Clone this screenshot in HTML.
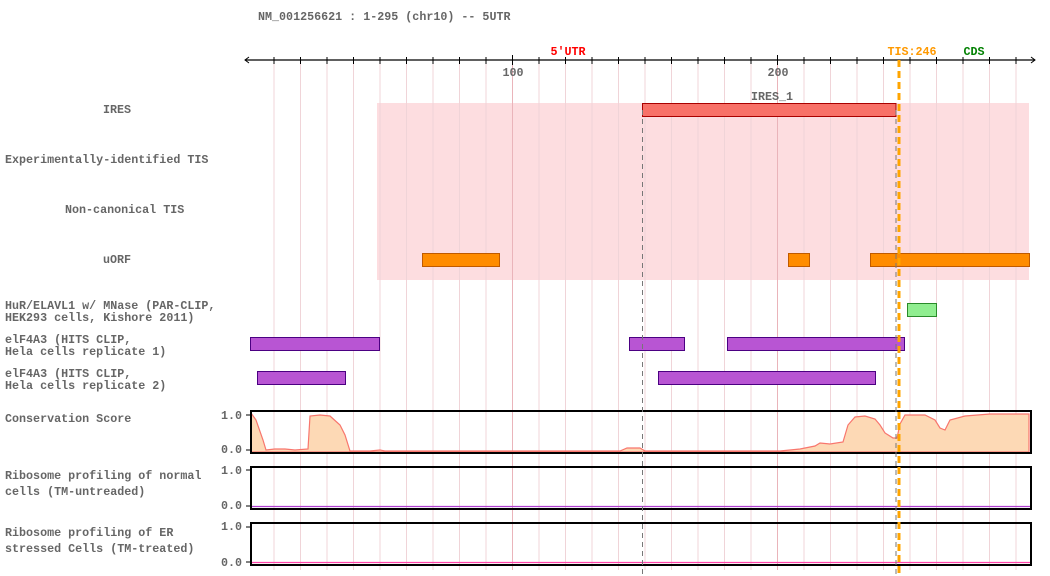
<!DOCTYPE html>
<html><head><meta charset="utf-8"><style>
body{margin:0;background:#fff;}
svg{display:block;}
text{font-family:"Liberation Mono",monospace;font-weight:bold;}
</style></head><body>
<svg width="1050" height="576" viewBox="0 0 1050 576" xmlns="http://www.w3.org/2000/svg">
<text x="258" y="20" font-size="11.7" fill="#666">NM_001256621 : 1-295 (chr10) -- 5UTR</text>
<rect x="377" y="103" width="652" height="177" fill="#fddde0"/>
<g stroke="#f0d4d8" stroke-width="1">
<line x1="274" y1="60" x2="274" y2="570"/><line x1="300.5" y1="60" x2="300.5" y2="570"/><line x1="327" y1="60" x2="327" y2="570"/><line x1="353.5" y1="60" x2="353.5" y2="570"/><line x1="380" y1="60" x2="380" y2="570"/><line x1="406.5" y1="60" x2="406.5" y2="570"/><line x1="433" y1="60" x2="433" y2="570"/><line x1="459.5" y1="60" x2="459.5" y2="570"/><line x1="486" y1="60" x2="486" y2="570"/>
<line x1="539" y1="60" x2="539" y2="570"/><line x1="565.5" y1="60" x2="565.5" y2="570"/><line x1="592" y1="60" x2="592" y2="570"/><line x1="618.5" y1="60" x2="618.5" y2="570"/><line x1="645" y1="60" x2="645" y2="570"/><line x1="671.5" y1="60" x2="671.5" y2="570"/><line x1="698" y1="60" x2="698" y2="570"/><line x1="724.5" y1="60" x2="724.5" y2="570"/><line x1="751" y1="60" x2="751" y2="570"/>
<line x1="804" y1="60" x2="804" y2="570"/><line x1="830.5" y1="60" x2="830.5" y2="570"/><line x1="857" y1="60" x2="857" y2="570"/><line x1="883.5" y1="60" x2="883.5" y2="570"/><line x1="910" y1="60" x2="910" y2="570"/><line x1="936.5" y1="60" x2="936.5" y2="570"/><line x1="963" y1="60" x2="963" y2="570"/><line x1="989.5" y1="60" x2="989.5" y2="570"/><line x1="1016" y1="60" x2="1016" y2="570"/>
</g>
<g stroke="#eab4ba"><line x1="512.5" y1="60" x2="512.5" y2="570"/><line x1="777.5" y1="60" x2="777.5" y2="570"/></g>
<line x1="245" y1="60" x2="1035" y2="60" stroke="#000" stroke-width="1.2"/>
<path d="M249,57 L245,60 L249,63 M1031,57 L1035,60 L1031,63" stroke="#000" fill="none"/>
<g stroke="#000">
<line x1="274" y1="57" x2="274" y2="64"/><line x1="300.5" y1="57" x2="300.5" y2="64"/><line x1="327" y1="57" x2="327" y2="64"/><line x1="353.5" y1="57" x2="353.5" y2="64"/><line x1="380" y1="57" x2="380" y2="64"/><line x1="406.5" y1="57" x2="406.5" y2="64"/><line x1="433" y1="57" x2="433" y2="64"/><line x1="459.5" y1="57" x2="459.5" y2="64"/><line x1="486" y1="57" x2="486" y2="64"/><line x1="512.5" y1="55" x2="512.5" y2="65"/>
<line x1="539" y1="57" x2="539" y2="64"/><line x1="565.5" y1="57" x2="565.5" y2="64"/><line x1="592" y1="57" x2="592" y2="64"/><line x1="618.5" y1="57" x2="618.5" y2="64"/><line x1="645" y1="57" x2="645" y2="64"/><line x1="671.5" y1="57" x2="671.5" y2="64"/><line x1="698" y1="57" x2="698" y2="64"/><line x1="724.5" y1="57" x2="724.5" y2="64"/><line x1="751" y1="57" x2="751" y2="64"/><line x1="777.5" y1="55" x2="777.5" y2="65"/>
<line x1="804" y1="57" x2="804" y2="64"/><line x1="830.5" y1="57" x2="830.5" y2="64"/><line x1="857" y1="57" x2="857" y2="64"/><line x1="883.5" y1="57" x2="883.5" y2="64"/><line x1="910" y1="57" x2="910" y2="64"/><line x1="936.5" y1="57" x2="936.5" y2="64"/><line x1="963" y1="57" x2="963" y2="64"/><line x1="989.5" y1="57" x2="989.5" y2="64"/><line x1="1016" y1="57" x2="1016" y2="64"/>
</g>
<text x="513" y="76" font-size="11.7" fill="#666" text-anchor="middle">100</text>
<text x="778" y="76" font-size="11.7" fill="#666" text-anchor="middle">200</text>
<text x="568" y="55" font-size="11.7" fill="#f00" text-anchor="middle">5'UTR</text>
<text x="912" y="55" font-size="11.7" fill="#ff9900" text-anchor="middle">TIS:246</text>
<text x="974" y="55" font-size="11.7" fill="#008000" text-anchor="middle">CDS</text>
<g font-size="11.7" fill="#666">
<text x="103" y="113">IRES</text>
<text x="5" y="163">Experimentally-identified TIS</text>
<text x="65" y="213">Non-canonical TIS</text>
<text x="103" y="263">uORF</text>
<text x="5" y="309">HuR/ELAVL1 w/ MNase (PAR-CLIP,</text>
<text x="5" y="321">HEK293 cells, Kishore 2011)</text>
<text x="5" y="343">elF4A3 (HITS CLIP,</text>
<text x="5" y="355">Hela cells replicate 1)</text>
<text x="5" y="377">elF4A3 (HITS CLIP,</text>
<text x="5" y="389">Hela cells replicate 2)</text>
<text x="5" y="422">Conservation Score</text>
<text x="5" y="479">Ribosome profiling of normal</text>
<text x="5" y="495">cells (TM-untreaded)</text>
<text x="5" y="536">Ribosome profiling of ER</text>
<text x="5" y="552">stressed Cells (TM-treated)</text>
<text x="242" y="419" text-anchor="end">1.0</text><text x="242" y="453" text-anchor="end">0.0</text>
<text x="242" y="474" text-anchor="end">1.0</text><text x="242" y="509" text-anchor="end">0.0</text>
<text x="242" y="530" text-anchor="end">1.0</text><text x="242" y="566" text-anchor="end">0.0</text>
</g>
<text x="772" y="100" font-size="11.7" fill="#666" text-anchor="middle">IRES_1</text>
<rect x="642.5" y="103.5" width="253.5" height="13" fill="#f87168" stroke="#a00" stroke-width="1"/>
<g fill="#ff8c00" stroke="#c05a00">
<rect x="422.5" y="253.5" width="77" height="13"/><rect x="788.5" y="253.5" width="21" height="13"/><rect x="870.5" y="253.5" width="159" height="13"/>
</g>
<rect x="907.5" y="303.5" width="29" height="13" fill="#90ee90" stroke="#2a8a2a"/>
<g fill="#b855d3" stroke="#4b0082">
<rect x="250.5" y="337.5" width="129" height="13"/><rect x="629.5" y="337.5" width="55" height="13"/><rect x="727.5" y="337.5" width="177" height="13"/>
<rect x="257.5" y="371.5" width="88" height="13"/><rect x="658.5" y="371.5" width="217" height="13"/>
</g>
<path d="M251,413 L256,420 L263,440 L266,450 L275,449 L285,449 L295,450 L308,449 L310,416 L320,415 L330,416 L340,425 L345,435 L350,451 L370,451 L380,450 L385,451 L620,451 L627,448 L640,448 L645,451 L780,451 L800,449 L815,446 L820,443 L830,444 L843,442 L848,425 L855,417 L865,416 L875,419 L880,425 L885,433 L893,438 L897,438 L900,424 L905,415 L925,415 L935,420 L940,428 L945,430 L950,420 L965,416 L990,414 L1029,414 L1029,452 L251,452 Z" fill="#fdd9b5" stroke="#f8766d" stroke-width="1.2"/>
<g fill="none" stroke="#000" stroke-width="2">
<rect x="251" y="411" width="780" height="42"/>
<rect x="251" y="467" width="780" height="42"/>
<rect x="251" y="523" width="780" height="42"/>
</g>
<g stroke="#000"><line x1="246" y1="415" x2="251" y2="415"/><line x1="246" y1="450" x2="251" y2="450"/><line x1="246" y1="470" x2="251" y2="470"/><line x1="246" y1="506" x2="251" y2="506"/><line x1="246" y1="527" x2="251" y2="527"/><line x1="246" y1="562" x2="251" y2="562"/></g>
<line x1="252" y1="506.5" x2="1030" y2="506.5" stroke="#b040d0" stroke-width="1.2"/>
<line x1="252" y1="562.5" x2="1030" y2="562.5" stroke="#ff44aa" stroke-width="1.2"/>
<g stroke="#777" stroke-dasharray="5,4"><line x1="642.5" y1="110" x2="642.5" y2="576"/><line x1="896" y1="110" x2="896" y2="576"/></g>
<line x1="899" y1="60" x2="899" y2="576" stroke="#ffa500" stroke-width="3" stroke-dasharray="7,4"/>
</svg>
</body></html>
